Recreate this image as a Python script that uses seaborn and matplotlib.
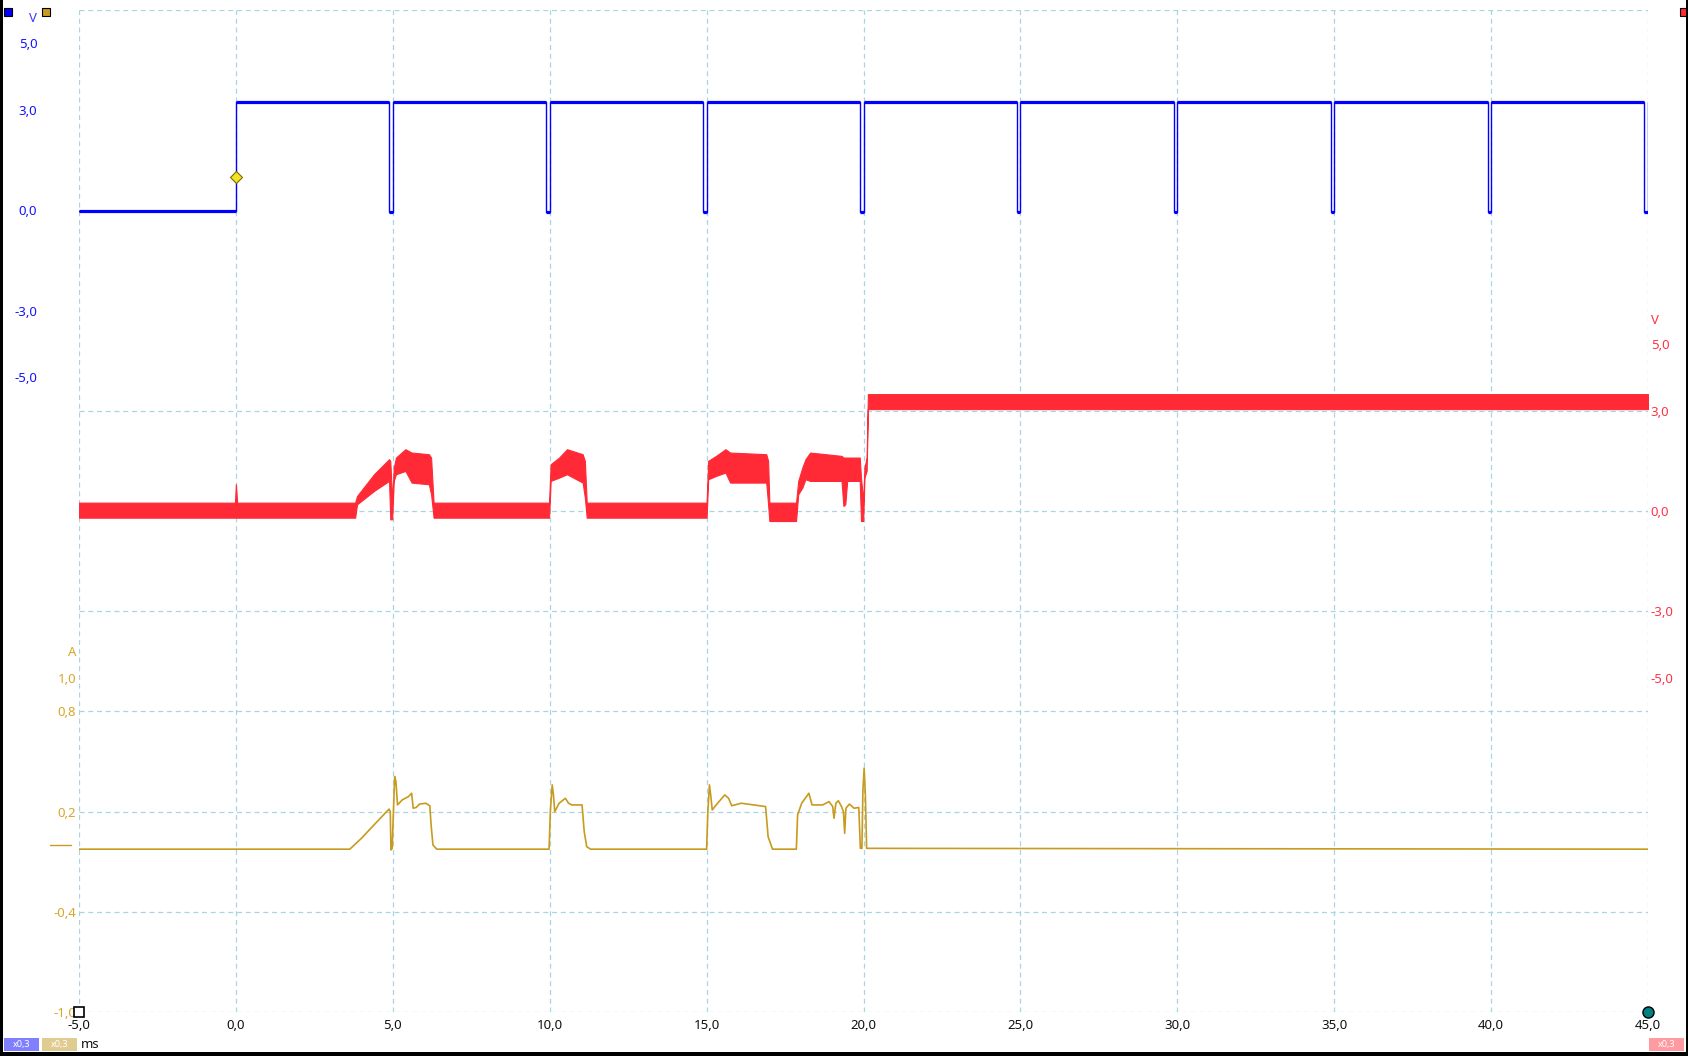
import matplotlib
matplotlib.use('Agg')
import matplotlib.pyplot as plt
import matplotlib.transforms as mtransforms
from matplotlib.lines import Line2D
from matplotlib.patches import Rectangle
from matplotlib.ticker import MultipleLocator
import numpy as np
import seaborn as sns

# channel A (blue, V): trigger at 0 ms, short dips every 5 ms
blue_t = [-5.0, 0.0, 0.0,
          4.89, 4.89, 5.0, 5.0,
          9.89, 9.89, 10.0, 10.0,
          14.89, 14.89, 15.0, 15.0,
          19.89, 19.89, 20.0, 20.0,
          24.89, 24.89, 25.0, 25.0,
          29.89, 29.89, 30.0, 30.0,
          34.89, 34.89, 35.0, 35.0,
          39.89, 39.89, 40.0, 40.0,
          44.87, 44.87, 44.99, 44.99]
blue_v = [-0.03, -0.03, 3.26,
          3.26, -0.05, -0.05, 3.26,
          3.26, -0.05, -0.05, 3.26,
          3.26, -0.05, -0.05, 3.26,
          3.26, -0.05, -0.05, 3.26,
          3.26, -0.05, -0.05, 3.26,
          3.26, -0.05, -0.05, 3.26,
          3.26, -0.05, -0.05, 3.26,
          3.26, -0.05, -0.05, 3.26,
          3.26, -0.05, -0.05, 3.26]

# channel B (red, V): noisy band, lower / upper envelope
red_t = [-5.0, -0.03, 0.0, 0.04, 3.8, 3.86, 4.4, 4.88, 4.92, 4.98, 5.03, 5.1, 5.4, 5.6,
         6.15, 6.22, 6.3, 9.98, 10.03, 10.3, 10.55, 11.05, 11.12, 11.18,
         15.0, 15.05, 15.3, 15.6, 15.75, 16.9, 16.96, 17.0, 17.85, 17.92, 18.05,
         18.15, 18.3, 19.3, 19.36, 19.42, 19.48, 19.88, 19.92, 19.99, 20.03, 20.1,
         20.14, 45.0]
red_lo = [-0.2, -0.2, -0.2, -0.2, -0.2, 0.2, 0.6, 0.9, -0.25, -0.25, 0.9, 1.1, 1.2, 0.85,
          0.8, 0.5, -0.2, -0.2, 0.9, 1.0, 1.1, 0.85, 0.4, -0.2,
          -0.2, 0.95, 1.05, 1.15, 0.85, 0.85, 0.2, -0.3, -0.3, 0.5, 0.7,
          0.95, 0.9, 0.9, 0.15, 0.2, 0.9, 0.9, -0.3, -0.3, 1.0, 1.2,
          3.05, 3.05]
red_hi = [0.25, 0.25, 0.8, 0.25, 0.25, 0.45, 1.1, 1.55, 1.5, 0.3, 1.3, 1.6, 1.85, 1.75,
          1.7, 1.6, 0.25, 0.25, 1.4, 1.6, 1.85, 1.7, 1.5, 0.25,
          0.25, 1.5, 1.65, 1.85, 1.75, 1.7, 1.5, 0.25, 0.25, 0.9, 1.3,
          1.55, 1.75, 1.65, 1.6, 1.6, 1.6, 1.6, 1.0, 0.3, 1.3, 1.6,
          3.5, 3.5]

# channel C (gold, A)
gold_t = [-5.0, 3.63, 4.0, 4.5, 4.88, 4.92, 4.94, 4.98, 5.02, 5.06, 5.1, 5.15, 5.3, 5.5,
          5.6, 5.65, 5.75, 5.85, 6.05, 6.18, 6.22, 6.28, 6.4,
          9.98, 10.02, 10.08, 10.12, 10.16, 10.3, 10.5, 10.6, 10.7, 11.03, 11.1, 11.18, 11.3,
          15.0, 15.04, 15.09, 15.13, 15.18, 15.35, 15.58, 15.7, 15.8, 16.1, 16.5, 16.88,
          16.96, 17.1, 17.86, 17.9, 18.03, 18.26, 18.36, 18.7, 18.9, 19.02, 19.06, 19.12,
          19.2, 19.3, 19.36, 19.4, 19.44, 19.55, 19.7, 19.85, 19.9, 19.95, 19.98, 20.02,
          20.06, 20.1, 45.0]
gold_a = [-0.025, -0.025, 0.04, 0.14, 0.215, 0.2, -0.03, -0.02, 0.2, 0.41, 0.38, 0.24, 0.27, 0.29,
          0.31, 0.22, 0.225, 0.245, 0.25, 0.235, 0.12, 0.0, -0.025,
          -0.025, 0.2, 0.36, 0.3, 0.2, 0.25, 0.28, 0.25, 0.24, 0.24, 0.08, -0.01, -0.025,
          -0.025, 0.2, 0.36, 0.3, 0.21, 0.25, 0.3, 0.28, 0.235, 0.25, 0.24, 0.23,
          0.05, -0.025, -0.025, 0.18, 0.25, 0.31, 0.24, 0.24, 0.26, 0.23, 0.16, 0.25,
          0.265, 0.23, 0.2, 0.07, 0.22, 0.245, 0.22, 0.225, -0.02, -0.02, 0.32, 0.46,
          0.3, -0.02, -0.025]

x_ticks = [-5, 0, 5, 10, 15, 20, 25, 30, 35, 40, 45]
blue_ticks = [5.0, 3.0, 0.0, -3.0, -5.0]
red_ticks = [5.0, 3.0, 0.0, -3.0, -5.0]
gold_ticks = [1.0, 0.8, 0.2, -0.4, -1.0]

BLUE = '#0000ff'
RED = '#ff2a36'
GOLD = '#c89b1e'
GRID = '#a9d5e0'

W, H = 1688, 1056


def fmt(v):
    return f'{v:.1f}'.replace('.', ',')


sns.set_style('white')
plt.rcParams['font.family'] = ['Noto Sans', 'DejaVu Sans']

fig = plt.figure(figsize=(W / 100, H / 100), dpi=100)
ax = fig.add_axes([79 / W, 1 - 1012 / H, (1648 - 79) / W, (1012 - 10) / H])
ax2 = ax.twinx()
ax3 = ax.twinx()

for a in (ax, ax2, ax3):
    for s in a.spines.values():
        s.set_visible(False)

# traces
sns.lineplot(x=blue_t, y=blue_v, ax=ax, color=BLUE, lw=1.0, sort=False, estimator=None)
flat_t, flat_v = [], []
for i in range(len(blue_t) - 1):
    if blue_v[i] == blue_v[i + 1]:
        flat_t += [blue_t[i], blue_t[i + 1], np.nan]
        flat_v += [blue_v[i], blue_v[i + 1], np.nan]
ax.plot(flat_t, flat_v, color=BLUE, lw=2.3, solid_capstyle='butt')

ax2.fill_between(red_t, red_lo, red_hi, color=RED, lw=0.8, edgecolor=RED)

sns.lineplot(x=gold_t, y=gold_a, ax=ax3, color=GOLD, lw=1.2, sort=False, estimator=None)

ax.set_xlim(-5, 45)
ax.set_ylim(-24, 6)
ax2.set_ylim(-15, 15)
ax3.set_ylim(-1, 5)
for a in (ax, ax2, ax3):
    a.set_xlabel('')
    a.set_ylabel('')

# grid lives on the bottom axes
ax.set_xticks(x_ticks)
ax.set_xticklabels([fmt(v) for v in x_ticks], fontsize=9.5, color='#111111')
ax.yaxis.set_minor_locator(MultipleLocator(3))
ax.grid(which='major', axis='x', color=GRID, linestyle=(0, (4, 3)), lw=0.9)
ax.grid(which='minor', axis='y', color=GRID, linestyle=(0, (4, 3)), lw=0.9)
ax.grid(which='major', axis='y', visible=False)
ax.set_axisbelow(True)

ax.set_yticks(blue_ticks)
ax.set_yticklabels([fmt(v) for v in blue_ticks], fontsize=9.5, color='#1515ff')

ax2.set_yticks(red_ticks)
ax2.set_yticklabels([fmt(v) for v in red_ticks], fontsize=9.5, color='#ff3347')

ax3.yaxis.tick_left()
ax3.set_yticks(gold_ticks)
ax3.set_yticklabels([fmt(v) for v in gold_ticks], fontsize=9.5, color='#d9a62a')

for a in (ax, ax2, ax3):
    a.tick_params(which='both', length=0, width=0)
ax.tick_params(axis='x', pad=5)
ax.tick_params(axis='y', pad=30)
ax2.tick_params(axis='y', pad=2)
ax3.tick_params(axis='y', pad=2)

# markers
ax.plot([0], [1.0], marker='D', ms=6, mfc='#f2e422', mec='#7a6a00', mew=0.8, zorder=5)
ax3.plot([-5], [-1], marker='s', ms=7, mfc='white', mec='black', mew=1.2, clip_on=False, zorder=6)
ax3.plot([45], [-1], marker='o', ms=8, mfc='#008080', mec='black', mew=1.0, clip_on=False, zorder=6)

# gold zero marker at the left margin
tr = mtransforms.blended_transform_factory(fig.transFigure, ax3.transData)
fig.add_artist(Line2D([49.5 / W, 71 / W], [0, 0], transform=tr, color=GOLD, lw=1.0))

# unit labels
fig.text(33 / W, 1 - 18 / H, 'V', color='#3a3aff', fontsize=9.5, ha='center', va='center')
fig.text(76 / W, 1 - 653 / H, 'A', color='#d9a62a', fontsize=9.5, ha='right', va='center')
fig.text(1651 / W, 1 - 320 / H, 'V', color='#ff3347', fontsize=9.5, ha='left', va='center')
fig.text(81 / W, 1 - 1045 / H, 'ms', color='#111111', fontsize=9.5, ha='left', va='center')

# channel squares at the top
for x0, c in [(3.5, BLUE), (41.5, '#c89a20'), (1679.5, RED)]:
    fig.add_artist(Rectangle((x0 / W, 1 - 15.7 / H), 8 / W, 8 / H, transform=fig.transFigure,
                             facecolor=c, edgecolor='black', lw=0.8))

# scale boxes at the bottom
for x0, c in [(4, '#8080ff'), (42, '#e0cc90'), (1649, '#ff9aa0')]:
    fig.add_artist(Rectangle((x0 / W, 1 - 1050.5 / H), 35 / W, 12.5 / H, transform=fig.transFigure,
                             facecolor=c, edgecolor='none'))
    fig.text((x0 + 17.5) / W, 1 - 1044.3 / H, 'x0,3', color='white', fontsize=6.5,
             ha='center', va='center')

# black frame on left, right and bottom
for rect in [(0, 0, 2.5, H), (W - 2.5, 0, 2.5, H), (0, 0, W, 4)]:
    fig.add_artist(Rectangle((rect[0] / W, rect[1] / H), rect[2] / W, rect[3] / H,
                             transform=fig.transFigure, facecolor='black', edgecolor='none'))

fig.savefig('out.png', dpi=100)
